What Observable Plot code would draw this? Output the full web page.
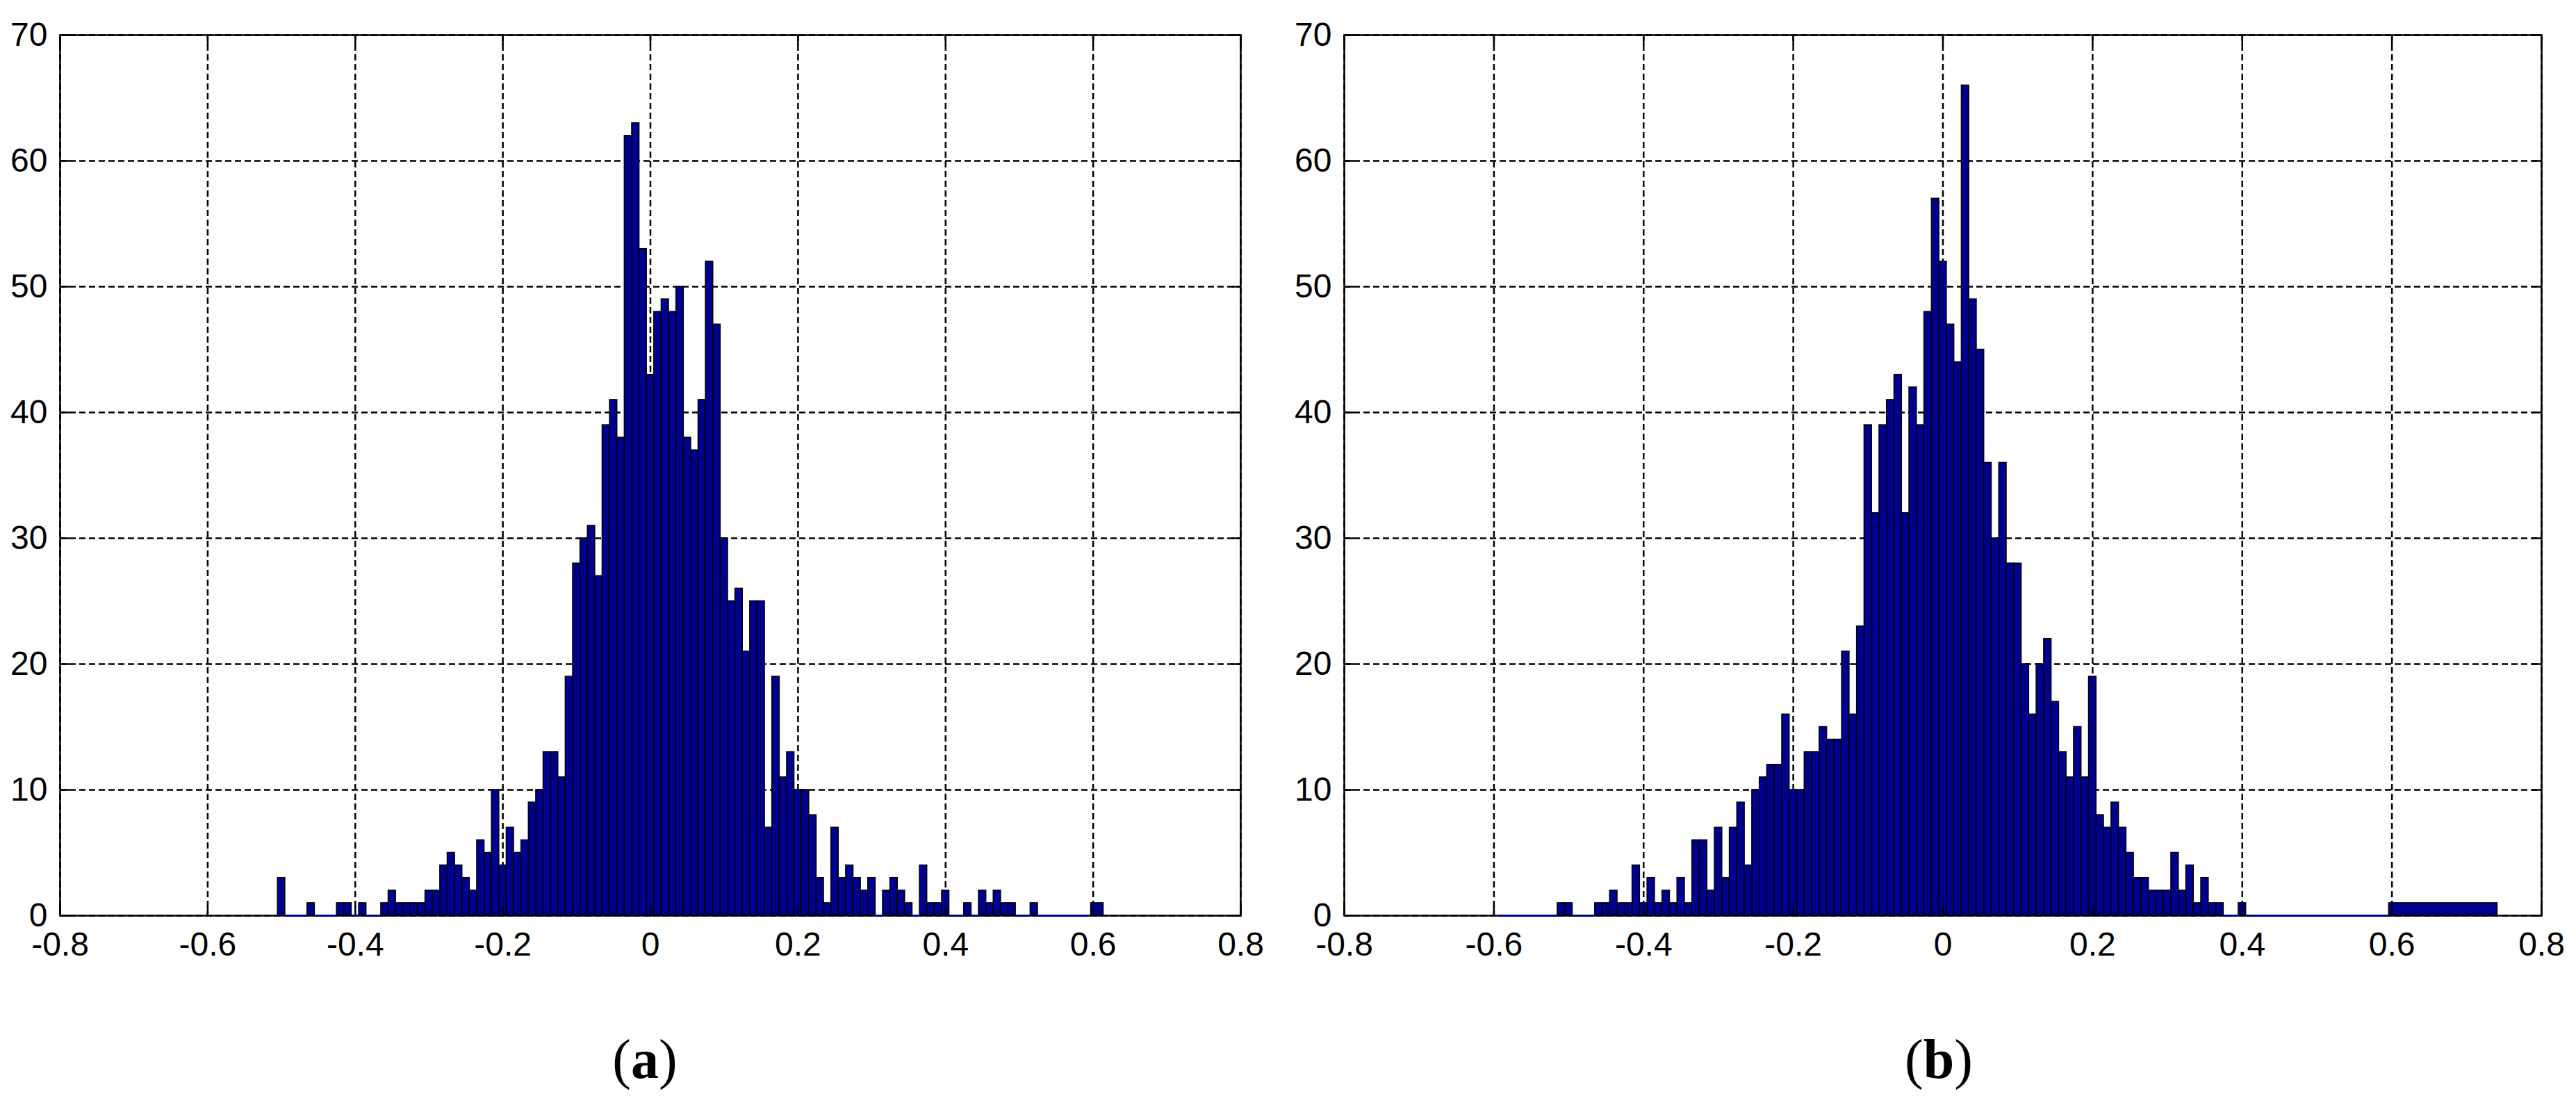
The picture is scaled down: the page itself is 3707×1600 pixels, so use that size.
<!DOCTYPE html>
<html>
<head>
<meta charset="utf-8">
<script src="https://cdn.jsdelivr.net/npm/d3@7"></script>
<script src="https://cdn.jsdelivr.net/npm/@observablehq/plot@0.6"></script>
<style>
  html, body { margin: 0; padding: 0; background: #fff; }
  #root { position: relative; width: 3707px; height: 1600px; overflow: hidden; background: #fff; }
  .panel { position: absolute; top: 0; }
  .cap { position: absolute; top: 1484px; font-family: "Liberation Serif", "Times New Roman", serif;
         font-size: 80px; line-height: 1; color: #000; transform: translateX(-50%); white-space: nowrap; }
  .cap b { font-weight: bold; }
</style>
</head>
<body>
<div id="root"></div>
<script>
// ---------- data ----------
const binWidth = 0.01;

// panel (a): counts per 0.01 bin, first bin centred at -0.50
const firstBinA = -0.50;
const countsA = [
  3, 0, 0, 0, 1, 0, 0, 0, 1, 1,
  0, 1, 0, 0, 1, 2, 1, 1, 1, 1,
  2, 2, 4, 5, 4, 3, 2, 6, 5, 10,
  4, 7, 5, 6, 9, 10, 13, 13, 11, 19,
  28, 30, 31, 27, 39, 41, 38, 62, 63, 53,
  43, 48, 49, 48, 50, 38, 37, 41, 52, 47,
  30, 25, 26, 21, 25, 25, 7, 19, 11, 13,
  10, 10, 8, 3, 1, 7, 3, 4, 3, 2,
  3, 0, 2, 3, 2, 1, 0, 4, 1, 1,
  2, 0, 0, 1, 0, 2, 1, 2, 1, 1,
  0, 0, 1, 0, 0, 0, 0, 0, 0, 0
];
const tailEdgesA = [0.597, 0.614];
const tailCountA = 1;

// panel (b): counts per 0.01 bin, first bin centred at -0.59
const firstBinB = -0.59;
const countsB = [
  0, 0, 0, 0, 0, 0, 0, 0, 1, 1,
  0, 0, 0, 1, 1, 2, 1, 1, 4, 1,
  3, 1, 2, 1, 3, 1, 6, 6, 2, 7,
  3, 7, 9, 4, 10, 11, 12, 12, 16, 10,
  10, 13, 13, 15, 14, 14, 21, 16, 23, 39,
  32, 39, 41, 43, 32, 42, 39, 48, 57, 52,
  47, 44, 66, 49, 45, 36, 30, 36, 28, 28,
  20, 16, 20, 22, 17, 13, 11, 15, 11, 19,
  8, 7, 9, 7, 5, 3, 3, 2, 2, 2,
  5, 2, 4, 1, 3, 1, 1, 0, 0, 1,
  0, 0, 0, 0, 0, 0, 0, 0, 0, 0,
  0, 0, 0, 0, 0, 0, 0, 0, 0
];
const tailEdgesB = [0.596, 0.741];
const tailCountB = 1;

const xTicks = [-0.8, -0.6, -0.4, -0.2, 0, 0.2, 0.4, 0.6, 0.8];
const yTicks = [0, 10, 20, 30, 40, 50, 60, 70];
const captionLetters = ["a", "b"];

// ---------- build ----------
function buildRows(first, counts, tailEdges, tailCount) {
  const rows = counts.map((c, i) => {
    const mid = +(first + i * binWidth).toFixed(3);
    return { x1: mid - binWidth / 2, x2: mid + binWidth / 2, count: c };
  });
  rows.push({ x1: tailEdges[0], x2: tailEdges[1], count: tailCount });
  return rows;
}

const fmtX = d => d === 0 ? "0" : (d < 0 ? "-" : "") + Math.abs(d).toFixed(1);
const BAR = "#00008f";
const gridStyle = { stroke: "black", strokeOpacity: 1, strokeWidth: 2.5, strokeDasharray: "9,5" };

function makePanel(rows, width, mLeft, mRight) {
  const filled = rows.filter(d => d.count > 0);
  const empty = rows.filter(d => d.count === 0);
  return Plot.plot({
    width, height: 1420,
    marginLeft: mLeft, marginRight: mRight, marginTop: 50, marginBottom: 103,
    x: { domain: [-0.8, 0.8] },
    y: { domain: [0, 70] },
    style: { fontFamily: "'Liberation Sans', Arial, sans-serif", fontSize: "48px", color: "black", background: "white" },
    marks: [
      Plot.gridX(xTicks, gridStyle),
      Plot.gridY(yTicks, gridStyle),
      Plot.rect(filled, { x1: "x1", x2: "x2", y1: 0, y2: "count", fill: BAR, stroke: "black", strokeWidth: 1.5 }),
      Plot.frame({ stroke: "black", strokeWidth: 2.5 }),
      Plot.ruleY(empty, { y: "count", x1: "x1", x2: "x2", stroke: BAR, strokeWidth: 3 }),
      Plot.axisX(xTicks, { anchor: "bottom", tickSize: -14, fill: "none", strokeWidth: 2.5, label: null }),
      Plot.axisX(xTicks, { anchor: "top", tickSize: -14, fill: "none", strokeWidth: 2.5, label: null }),
      Plot.axisY(yTicks, { anchor: "left", tickSize: -14, fill: "none", strokeWidth: 2.5, label: null }),
      Plot.axisY(yTicks, { anchor: "right", tickSize: -14, fill: "none", strokeWidth: 2.5, label: null }),
      Plot.axisX(xTicks, { anchor: "bottom", tickSize: 0, tickPadding: 23, tickFormat: fmtX, fontSize: 48, label: null }),
      Plot.axisY(yTicks, { anchor: "left", tickSize: 0, tickPadding: 18, fontSize: 48, label: null })
    ]
  });
}

const root = document.getElementById("root");
const panels = [
  { rows: buildRows(firstBinA, countsA, tailEdgesA, tailCountA), left: 0, width: 1853, mL: 86, mR: 68, capX: 928 },
  { rows: buildRows(firstBinB, countsB, tailEdgesB, tailCountB), left: 1853, width: 1854, mL: 81, mR: 50, capX: 2790 }
];
panels.forEach((p, i) => {
  const wrap = document.createElement("div");
  wrap.className = "panel";
  wrap.style.left = p.left + "px";
  wrap.appendChild(makePanel(p.rows, p.width, p.mL, p.mR));
  root.appendChild(wrap);
  const cap = document.createElement("div");
  cap.className = "cap";
  cap.style.left = p.capX + "px";
  cap.innerHTML = "(<b>" + captionLetters[i] + "</b>)";
  root.appendChild(cap);
});
</script>
</body>
</html>
